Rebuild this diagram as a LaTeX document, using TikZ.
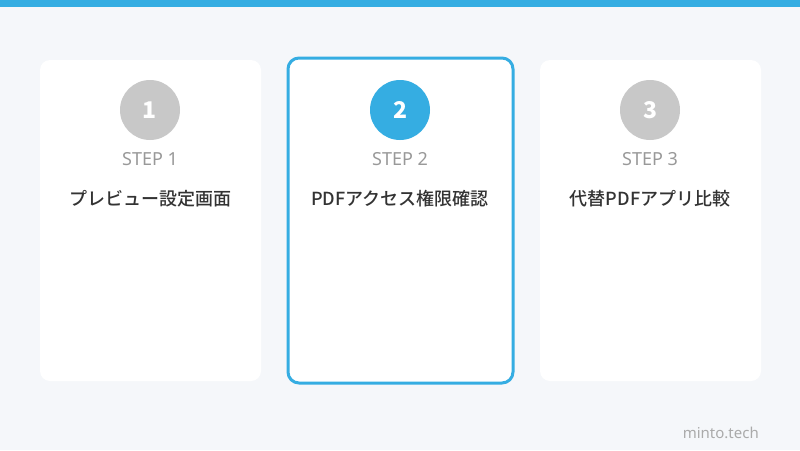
\documentclass[tikz,border=0pt]{standalone}
\usepackage{fontspec}
\setmainfont{Noto Sans}
\newfontfamily\jp{Noto Sans CJK JP}
\newfontfamily\jpmed{Noto Sans CJK JP}[UprightFont={* Medium}]
\usepackage{tikz}
\usetikzlibrary{positioning}

\definecolor{bgpage}{HTML}{F5F7FA}
\definecolor{stepblue}{HTML}{35ADE2}
\definecolor{stepgray}{HTML}{C8C8C8}
\definecolor{labelgray}{HTML}{999999}
\definecolor{titledark}{HTML}{333333}
\definecolor{footgray}{HTML}{AAAAAA}

\tikzset{
  card/.style={fill=white,rounded corners=10pt,minimum width=221pt,minimum height=321pt,inner sep=0pt},
  cardon/.style={fill=white,draw=stepblue,line width=3pt,rounded corners=11pt,minimum width=225pt,minimum height=325pt,inner sep=0pt},
  badge/.style={circle,minimum size=60pt,inner sep=0pt,text=white,font=\jp\bfseries\fontsize{23}{23}\selectfont},
  steplabel/.style={text=labelgray,font=\fontsize{18}{18}\selectfont,inner sep=0pt},
  steptitle/.style={text=titledark,font=\jpmed\fontsize{18}{18}\selectfont,inner sep=0pt}
}

\begin{document}
\begin{tikzpicture}[x=1pt,y=-1pt]
      \useasboundingbox (0,0) rectangle (800,450);
      \fill[bgpage] (0,0) rectangle (800,450);
      \fill[stepblue] (0,0) rectangle (800,7);

      % cards
      \node[card] (card1) at (150.5,220.5) {};
      \node[cardon] (card2) at (400.5,220.5) {};
      \node[card] (card3) at (650.5,220.5) {};

      % step 1
      \node[badge,fill=stepgray] (num1) at (150,110) {1};
      \node[steplabel] (lab1) at (150,159) {STEP 1};
      \node[steptitle] (tit1) at (150,199) {プレビュー設定画面};

      % step 2
      \node[badge,fill=stepblue] (num2) at (400,110) {2};
      \node[steplabel] (lab2) at (400,159) {STEP 2};
      \node[steptitle] (tit2) at (400,199) {PDFアクセス権限確認};

      % step 3
      \node[badge,fill=stepgray] (num3) at (650,110) {3};
      \node[steplabel] (lab3) at (650,159) {STEP 3};
      \node[steptitle] (tit3) at (650,199) {代替PDFアプリ比較};

      \node[text=footgray,font=\fontsize{15}{15}\selectfont,anchor=east,inner sep=0pt] (brand) at (759,433) {minto.tech};
\end{tikzpicture}
\end{document}
